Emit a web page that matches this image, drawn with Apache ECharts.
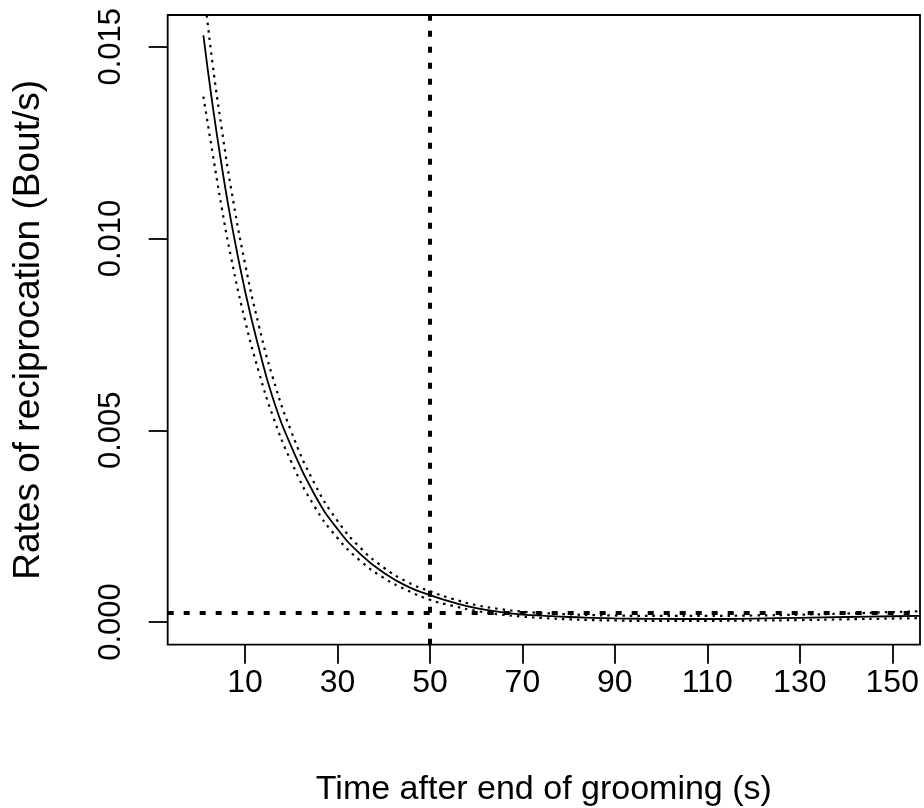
<!DOCTYPE html>
<html>
<head>
<meta charset="utf-8">
<script src="https://cdn.jsdelivr.net/npm/echarts@6/dist/echarts.min.js"></script>
<style>
html,body{margin:0;padding:0;background:#fff;}
#chart{width:924px;height:808px;}
</style>
</head>
<body>
<div id="chart"></div>
<script>
// Time after end of grooming (s)
var timeSec   = [1, 3, 5, 7, 10, 13, 16, 20, 25, 30, 35, 40, 45, 50, 55, 60, 65, 70, 75, 80, 85, 90, 95, 100, 110, 120, 130, 140, 150, 156];
// fitted rate (solid)
var rateFit   = [0.0153, 0.01347, 0.01187, 0.01045, 0.00864, 0.00714, 0.00585, 0.00458, 0.00333, 0.002425, 0.001766, 0.001286, 0.000936, 0.00070, 0.00051, 0.00036, 0.000265, 0.000195, 0.000160, 0.000130, 0.000110, 0.000095, 0.000085, 0.000080, 0.000078, 0.000090, 0.000110, 0.000130, 0.000150, 0.000160];
// upper confidence limit (dotted)
var rateUpper = [0.0166, 0.01455, 0.01284, 0.01130, 0.00935, 0.00773, 0.00638, 0.00497, 0.00362, 0.00264, 0.00193, 0.00142, 0.00105, 0.00080, 0.00060, 0.00044, 0.00034, 0.00027, 0.00023, 0.00020, 0.00018, 0.00017, 0.00016, 0.00016, 0.00016, 0.00017, 0.00019, 0.00022, 0.00026, 0.00028];
// lower confidence limit (dotted)
var rateLower = [0.0137, 0.01222, 0.01078, 0.00950, 0.00787, 0.00652, 0.00538, 0.00418, 0.00302, 0.00219, 0.00159, 0.00115, 0.00083, 0.00058, 0.00042, 0.00029, 0.00020, 0.00014, 0.00010, 0.00007, 0.00005, 0.00004, 0.00003, 0.00003, 0.00003, 0.00004, 0.00005, 0.00007, 0.00009, 0.00010];
// reference lines
var refTime = 50;
var refRate = 0.000235;
// tick labels
var xTicks = [10, 30, 50, 70, 90, 110, 130, 150];
var yTicks = [0, 0.005, 0.010, 0.015];

function pairs(xs, ys){ return xs.map(function(x,i){ return [x, ys[i]]; }); }

var FONT = '"Liberation Sans", Arial, sans-serif';
var chart = echarts.init(document.getElementById('chart'), null, {renderer:'canvas'});
chart.setOption({
  animation: false,
  backgroundColor: '#ffffff',
  grid: {left: 167.7, right: 4, top: 15, bottom: 163.3, containLabel: false, outerBoundsMode: 'none',
         show: true, borderColor: '#000', borderWidth: 1.8, backgroundColor: 'transparent'},
  xAxis: {
    type: 'value', min: -6.72, max: 156,
    name: 'Time after end of grooming (s)', nameLocation: 'middle', nameGap: 128,
    nameTextStyle: {fontFamily: FONT, fontSize: 34, color: '#000'},
    axisLine: {show: false, onZero: false},
    splitLine: {show: false},
    axisTick: {show: true, inside: false, length: 19, lineStyle: {color: '#000', width: 1.8}, customValues: xTicks},
    axisLabel: {show: true, margin: 22, fontFamily: FONT, fontSize: 32, color: '#000', customValues: xTicks}
  },
  yAxis: {
    type: 'value', min: -0.000592, max: 0.01583,
    name: 'Rates of reciprocation (Bout/s)', nameLocation: 'middle', nameGap: 120,
    nameTextStyle: {fontFamily: FONT, fontSize: 37, color: '#000'},
    axisLine: {show: false, onZero: false},
    splitLine: {show: false},
    axisTick: {show: true, inside: false, length: 19, lineStyle: {color: '#000', width: 1.8}, customValues: yTicks},
    axisLabel: {show: true, rotate: 90, margin: 41, fontFamily: FONT, fontSize: 31, color: '#000', customValues: yTicks,
      formatter: function(v){ return v.toFixed(3); }}
  },
  series: [
    {type: 'line', data: pairs(timeSec, rateFit), smooth: true, showSymbol: false, symbol: 'none', clip: true,
     lineStyle: {color: '#000', width: 1.8},
     markLine: {silent: true, precision: 8, symbol: ['none','none'], label: {show: false},
       lineStyle: {color: '#000', width: 4, type: [6, 10]},
       data: [{xAxis: refTime}, {yAxis: refRate}]}},
    {type: 'line', data: pairs(timeSec, rateUpper), smooth: true, showSymbol: false, symbol: 'none', clip: true,
     lineStyle: {color: '#000', width: 2.2, type: [2.5, 5]}},
    {type: 'line', data: pairs(timeSec, rateLower), smooth: true, showSymbol: false, symbol: 'none', clip: true,
     lineStyle: {color: '#000', width: 2.2, type: [2.5, 5]}}
  ]
});
</script>
</body>
</html>
